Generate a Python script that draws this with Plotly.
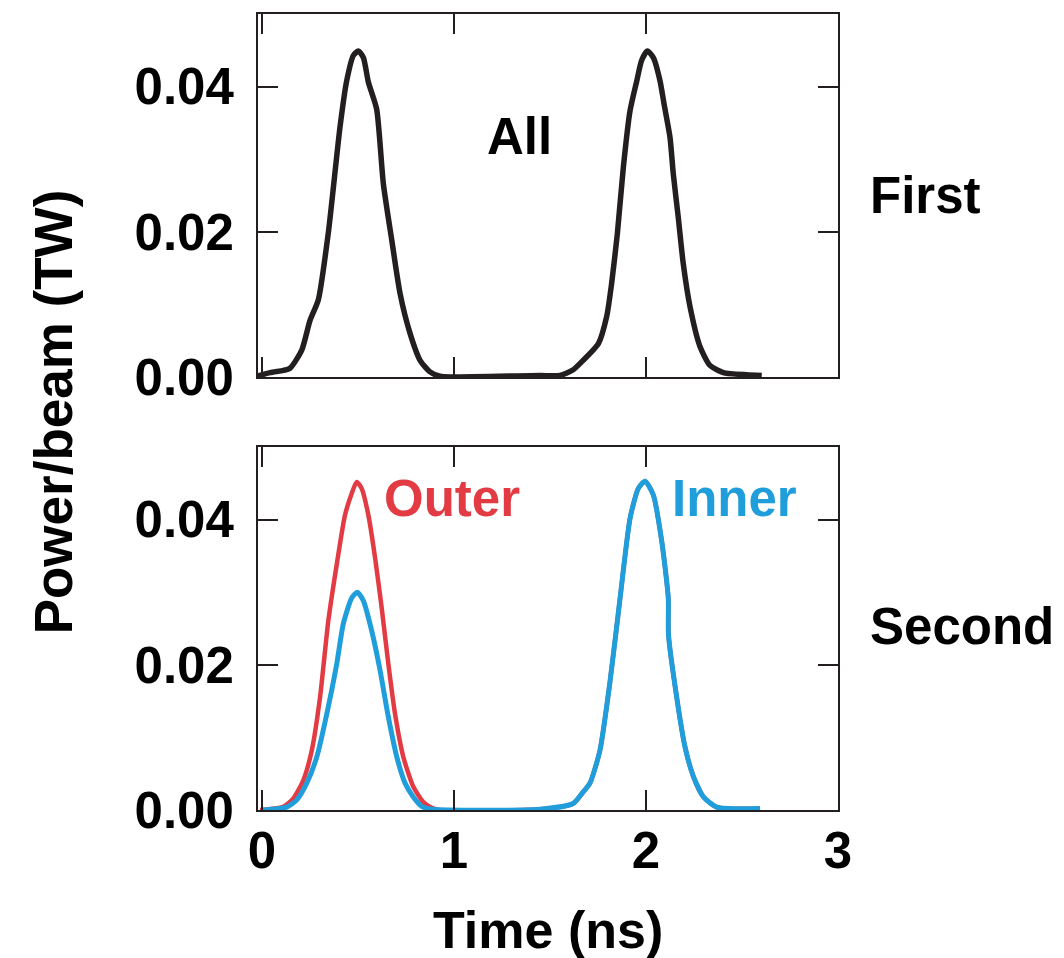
import plotly.graph_objects as go

# Laser power per beam versus time, two pulses per shot
# Upper panel: all beams in the first configuration
all_time = [-0.04, 0.042, 0.111, 0.146, 0.207, 0.25, 0.293, 0.345, 0.406, 0.441, 0.476, 0.502,
            0.528, 0.554, 0.597, 0.632, 0.676, 0.719, 0.771, 0.823, 0.875, 0.927, 0.98,
            1.448, 1.552, 1.621, 1.673, 1.752, 1.795, 1.821, 1.851, 1.882, 1.917, 1.952, 1.977, 2.007,
            2.038, 2.073, 2.094, 2.125, 2.142, 2.168, 2.194, 2.229, 2.281, 2.333, 2.403, 2.524, 2.603]
all_power = [0.0, 0.0006, 0.0009, 0.0012, 0.0037, 0.0078, 0.0106, 0.0198, 0.0344, 0.0408, 0.0443, 0.0449,
             0.0440, 0.0406, 0.0369, 0.0266, 0.0188, 0.0115, 0.0060, 0.0023, 0.0007, 0.0001, 0.0,
             0.0002, 0.0002, 0.0010, 0.0023, 0.0046, 0.0083, 0.0129, 0.0198, 0.0289, 0.0367, 0.0408, 0.0436, 0.0449,
             0.0440, 0.0408, 0.0376, 0.0330, 0.0280, 0.0220, 0.0156, 0.0097, 0.0042, 0.0016, 0.0006, 0.0003, 0.0002]

# Lower panel: outer and inner beams in the second configuration
outer_time_1 = [-0.01, 0.111, 0.163, 0.215, 0.259, 0.302, 0.345, 0.389, 0.432, 0.467, 0.493,
                0.519, 0.554, 0.589, 0.623, 0.658, 0.693, 0.736, 0.788, 0.84, 0.884, 0.927]
outer_power_1 = [0.0, 0.00045, 0.0016, 0.0041, 0.0082, 0.0155, 0.026, 0.0338, 0.0406, 0.0436, 0.0452,
                 0.0443, 0.0406, 0.0347, 0.0279, 0.0201, 0.0132, 0.0073, 0.0032, 0.0011, 0.0003, 0.0]

inner_time_1 = [0.0, 0.129, 0.181, 0.233, 0.285, 0.337, 0.389, 0.423, 0.467, 0.496,
                0.528, 0.571, 0.615, 0.658, 0.702, 0.745, 0.788, 0.832, 0.884]
inner_power_1 = [0.0, 0.0004, 0.0014, 0.0037, 0.0073, 0.0132, 0.0201, 0.0256, 0.0292, 0.0300,
                 0.0288, 0.0247, 0.0192, 0.0128, 0.0073, 0.0037, 0.0018, 0.0005, 0.0001]

# Second pulse, common to outer and inner beams
pulse2_time = [1.448, 1.621, 1.673, 1.708, 1.76, 1.813, 1.865, 1.917, 1.96, 1.995,
               2.038, 2.082, 2.116, 2.117, 2.16, 2.203, 2.247, 2.299, 2.368, 2.594]
pulse2_power = [0.0001, 0.0009, 0.0025, 0.0037, 0.0082, 0.0178, 0.0292, 0.0402, 0.0443, 0.0453,
                0.0434, 0.0370, 0.0292, 0.0242, 0.0155, 0.0087, 0.0046, 0.0018, 0.0004, 0.0002]

x_ticks = [0, 1, 2, 3]
y_ticks = [0.0, 0.02, 0.04]
y_tick_text = ["0.00", "0.02", "0.04"]

BLACK = "#231f20"
RED = "#e23b43"
BLUE = "#1f9edb"
FONT = "Liberation Sans, Arial, Helvetica, sans-serif"

fig = go.Figure()

fig.add_trace(go.Scatter(x=all_time, y=all_power, mode="lines", name="All",
                         line=dict(color=BLACK, width=5.5, shape="spline", smoothing=0.6),
                         xaxis="x2", yaxis="y2"))
fig.add_trace(go.Scatter(x=outer_time_1 + pulse2_time, y=outer_power_1 + pulse2_power, mode="lines",
                         name="Outer", line=dict(color=RED, width=4.5, shape="spline", smoothing=0.6),
                         xaxis="x", yaxis="y"))
fig.add_trace(go.Scatter(x=inner_time_1 + pulse2_time, y=inner_power_1 + pulse2_power, mode="lines",
                         name="Inner", line=dict(color=BLUE, width=5, shape="spline", smoothing=0.6),
                         xaxis="x", yaxis="y"))

axis_common = dict(
    showline=True, linecolor=BLACK, linewidth=2, mirror="allticks",
    ticks="inside", ticklen=20, tickwidth=2, tickcolor=BLACK,
    showgrid=False, zeroline=False,
    tickfont=dict(family=FONT, size=51, color="black", weight="bold"),
)

x_range = [-0.021, 3.0]
y_range = [0.0, 0.05]

fig.update_layout(
    width=1064, height=958,
    margin=dict(l=258, r=226, t=14, b=148),
    paper_bgcolor="white", plot_bgcolor="white",
    showlegend=False,
    xaxis=dict(domain=[0, 1], anchor="y", range=x_range, tickvals=x_ticks,
               ticklabelstandoff=-5, **axis_common),
    yaxis=dict(domain=[0, 0.456], anchor="x", range=y_range, tickvals=y_ticks,
               ticktext=y_tick_text, ticklabelstandoff=12, **axis_common),
    xaxis2=dict(domain=[0, 1], anchor="y2", range=x_range, tickvals=x_ticks,
                showticklabels=False, **axis_common),
    yaxis2=dict(domain=[0.544, 1], anchor="x2", range=y_range, tickvals=y_ticks,
                ticktext=y_tick_text, ticklabelstandoff=12, **axis_common),
)

label_font = dict(family=FONT, size=51, weight="bold")

annotations = [
    dict(text="All", x=1.339, y=0.0331, xref="x2", yref="y2", xanchor="center", yanchor="middle",
         font=dict(color="black", **label_font)),
    dict(text="Outer", x=0.623, y=0.0429, xref="x", yref="y", xanchor="left", yanchor="middle",
         font=dict(color=RED, **label_font)),
    dict(text="Inner", x=2.125, y=0.0429, xref="x", yref="y", xanchor="left", yanchor="middle",
         font=dict(color=BLUE, **label_font)),
    dict(text="First", x=1.052, y=0.025, xref="paper", yref="y2", xanchor="left", yanchor="middle",
         font=dict(color="black", **label_font)),
    dict(text="Second", x=1.052, y=0.0253, xref="paper", yref="y", xanchor="left", yanchor="middle",
         font=dict(color="black", **label_font)),
    dict(text="Power/beam (TW)", x=-0.352, y=0.5006, xref="paper", yref="paper", textangle=-90,
         xanchor="center", yanchor="middle", font=dict(color="black", family=FONT, size=53, weight="bold")),
    dict(text="Time (ns)", x=0.5, y=-0.151, xref="paper", yref="paper",
         xanchor="center", yanchor="middle", font=dict(color="black", family=FONT, size=52, weight="bold")),
]
for a in annotations:
    a["showarrow"] = False
fig.update_layout(annotations=annotations)

fig.write_html("out.html")
